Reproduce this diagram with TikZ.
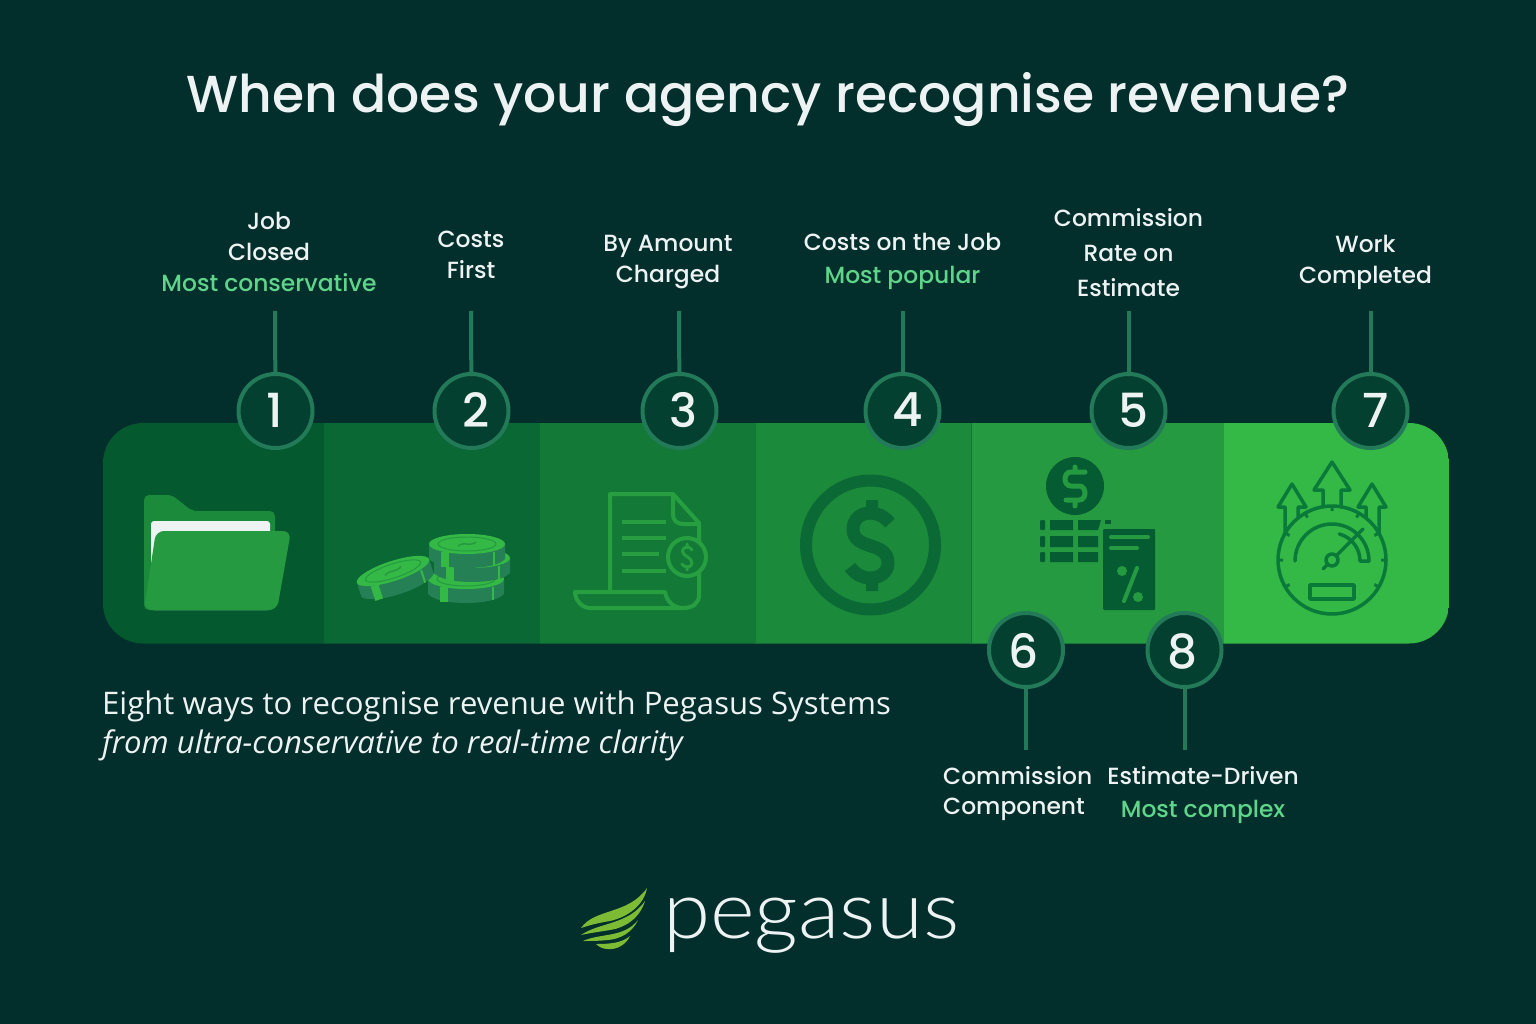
\documentclass[tikz,border=0pt]{standalone}
\usepackage{fontspec}
\setmainfont{Poppins}
\newfontfamily\titlefont{Poppins Medium}
\newfontfamily\logofont{Lato Light}
\newfontfamily\bodyfont{Open Sans}
\definecolor{bgdark}{HTML}{022E2C}
\definecolor{panela}{HTML}{04592F}
\definecolor{panelb}{HTML}{0A6834}
\definecolor{panelc}{HTML}{127A36}
\definecolor{paneld}{HTML}{1B8A3B}
\definecolor{panele}{HTML}{259A40}
\definecolor{panelf}{HTML}{34B846}
\definecolor{ringfill}{HTML}{03402F}
\definecolor{ringline}{HTML}{237A58}
\definecolor{softwhite}{HTML}{EDF2F2}
\definecolor{mint}{HTML}{5FD58A}
\definecolor{coinside}{HTML}{268055}
\definecolor{leaf}{HTML}{7DBB35}
\definecolor{iconfive}{HTML}{055C33}
\definecolor{iconseven}{HTML}{0A7A3A}
\tikzset{
  numring/.style={draw=ringline, fill=ringfill, circle, line width=4pt, minimum size=74pt, inner sep=0pt},
  numtext/.style={text=softwhite, font=\titlefont\fontsize{47}{47}\selectfont, inner sep=0pt},
  stem/.style={draw=ringline, line width=4pt},
  caption/.style={text=softwhite, align=center, inner sep=0pt, font=\titlefont\fontsize{23.4}{31}\selectfont},
  coin/.pic={
    \fill[coinside] (-38,0) -- (-38,15) .. controls (-28,27) and (28,27) .. (38,15) -- (38,0) -- cycle;
    \fill[panelf] (-26,8) rectangle (-18,23);
    \fill[panelf] (26,8) rectangle (28,21);
    \fill[panelf] (0,0) ellipse (38pt and 10pt);
    \draw[panele, line width=1pt] (0,0) ellipse (29pt and 7pt);
    \draw[panele, line width=1.5pt] (-9,2) .. controls (-3,-3) and (3,3) .. (9,-2);
  },
}
\begin{document}
\begin{tikzpicture}[x=1pt, y=-1pt]
\useasboundingbox[fill=bgdark] (0,0) rectangle (1536,1024);
\node[text=softwhite, font=\titlefont\fontsize{52}{52}\selectfont, inner sep=0pt] (heading) at (768,100) {When does your agency recognise revenue?};
% band
\begin{scope}
\clip[rounded corners=40pt] (103,423) rectangle (1449,643.5);
\fill[panela] (103,423) rectangle (324,644);
\fill[panelb] (324,423) rectangle (540,644);
\fill[panelc] (540,423) rectangle (755,644);
\fill[paneld] (755,423) rectangle (971,644);
\fill[panele] (971,423) rectangle (1224,644);
\fill[panelf] (1224,423) rectangle (1449,644);
\draw[panelc, line width=1pt] (755.5,423) -- (755.5,644);
\draw[panelc, line width=1pt] (971.5,423) -- (971.5,644);
\end{scope}
% folder
\fill[paneld, rounded corners=5pt] (144,610) -- (144,495) -- (172,495) -- (192,511) -- (275,511) -- (275,610) -- cycle;
\fill[softwhite, rounded corners=3pt] (151,610) -- (151,521) -- (270,521) -- (270,610) -- cycle;
\fill[panele, rounded corners=8pt] (156,531) -- (291,531) -- (277,610) -- (144,610) -- cycle;
% coins
\pic at (466,579) {coin};
\pic at (472,558) {coin};
\pic at (467,544) {coin};
\begin{scope}[shift={(393,571)}, rotate=18]
\pic[transform shape] at (0,0) {coin};
\end{scope}
% invoice
\begin{scope}[panele!85!panelf, line width=4pt, line join=round]
\draw (610,592) -- (610,494) -- (673,494) -- (699,523) -- (699,595) .. controls (699,604) and (692,608) .. (683,608) -- (590,608) .. controls (582,608) and (575,600) .. (575,592) -- (665,592) .. controls (667,602) and (674,608) .. (683,608);
\draw (673,494) -- (673,515) .. controls (673,520) and (677,524) .. (683,524) -- (699,524);
\draw (622,522) -- (666,522) (622,538) -- (666,538) (622,554) -- (659,554) (622,571) -- (666,571);
\fill[panelc] (687,557) circle (19pt);
\draw (687,557) circle (19pt);
\draw[line width=3pt, line cap=round] (692,550) .. controls (690,546) and (683,546) .. (682.5,551) .. controls (682,556) and (692,557) .. (692,563) .. controls (692,568) and (684,568) .. (682,564) (687,544) -- (687,547) (687,567) -- (687,570);
\end{scope}
% big dollar
\draw[panelb!95!panelc, line width=12pt] (870.5,545) circle (64.5pt);
\draw[panelb!95!panelc, line width=13pt] (890,523) .. controls (884,516) and (877,513) .. (870,513) .. controls (860,513) and (853,520) .. (853,529) .. controls (853,540) and (862,543) .. (871,546) .. controls (881,549) and (888,553) .. (888,563) .. controls (888,572) and (880,578) .. (870,578) .. controls (862,578) and (855,574) .. (850,567);
\fill[panelb!95!panelc] (866,500) rectangle (878,514) (866,576) rectangle (878,591);
% table and rate card
\fill[iconfive] (1075,486) circle (29pt);
\draw[panele, line width=5pt, line cap=round] (1085,472) -- (1071,472) .. controls (1063,472) and (1063,486) .. (1071,486) -- (1079,486) .. controls (1087,486) and (1087,500) .. (1079,500) -- (1066,500) (1075,467) -- (1075,472) (1075,500) -- (1075,506);
\fill[iconfive, rounded corners=1pt] (1040,520) rectangle (1045,530) (1040,536) rectangle (1045,547) (1040,552) rectangle (1045,562);
\fill[iconfive] (1050,520) rectangle (1073,530) (1050,536) rectangle (1073,547) (1050,552) rectangle (1073,562);
\fill[iconfive] (1078,520) -- (1101,520) -- (1098,530) -- (1078,530) -- cycle (1078,536) rectangle (1098,547) (1078,552) rectangle (1098,562);
\fill[iconfive] (1105,520) rectangle (1111,524);
\fill[iconfive, rounded corners=1pt] (1103,529) rectangle (1155,610);
\draw[panele, line width=4pt, line cap=round] (1111,537) -- (1148,537) (1111,548) -- (1137,548);
\draw[panele, line width=4pt, line cap=round] (1137,568) -- (1124,601);
\fill[panele] (1122,571) circle (5pt) (1138,597) circle (5pt);
% gauge
\begin{scope}[draw=iconseven, line width=3.5pt, line join=round, line cap=round]
\draw (1332,560) circle (54pt);
\draw (1323,507) -- (1323,490) -- (1314,490) -- (1332,462) -- (1350,490) -- (1341,490) -- (1341,507);
\draw (1285,533) -- (1285,507) -- (1278,507) -- (1292,484) -- (1306,507) -- (1298,507) -- (1298,517);
\draw (1379,533) -- (1379,507) -- (1386,507) -- (1372,484) -- (1358,507) -- (1366,507) -- (1366,517);
\draw (1295,561) arc (180:0:37pt) -- (1360,561) arc (0:75:28pt);
\draw (1323,569) -- (1363,529);
\fill[panelf] (1332,560) circle (6pt);
\draw (1332,560) circle (6pt);
\draw (1310,585) rectangle (1354,599);
\end{scope}
\begin{scope}[shift={(1332,560)}, draw=iconseven, line width=3pt]
\draw (0:54pt) -- (0:49pt) (30:54pt) -- (30:49pt) (60:54pt) -- (60:49pt);
\draw (90:54pt) -- (90:49pt) (120:54pt) -- (120:49pt) (150:54pt) -- (150:49pt);
\draw (180:54pt) -- (180:49pt) (210:54pt) -- (210:49pt) (330:54pt) -- (330:49pt);
\end{scope}
% numbered rings
\node[numring] (ringa) at (275.5,411) {};
\node[numring] (ringb) at (471.5,411) {};
\node[numring] (ringc) at (679.5,411) {};
\node[numring] (ringd) at (902.5,411) {};
\node[numring] (ringe) at (1128.5,411) {};
\node[numring] (ringg) at (1370.5,411) {};
\node[numring] (ringf) at (1026,650) {};
\node[numring] (ringh) at (1184.5,650) {};
\node[numtext] (numa) at (275,410) {1};
\node[numtext] (numb) at (476,410) {2};
\node[numtext] (numc) at (683,410) {3};
\node[numtext] (numd) at (908,410) {4};
\node[numtext] (nume) at (1134,410) {5};
\node[numtext] (numg) at (1376,410) {7};
\node[numtext] (numf) at (1024,651) {6};
\node[numtext] (numh) at (1182.5,651) {8};
% stems
\coordinate (enda) at (275,311);
\coordinate (endb) at (471,311);
\coordinate (endc) at (679,311);
\coordinate (endd) at (902.5,311);
\coordinate (ende) at (1128.5,311);
\coordinate (endg) at (1370.5,311);
\coordinate (endf) at (1026,750);
\coordinate (endh) at (1184.5,750);
\draw[stem] (enda) -- (ringa);
\draw[stem] (endb) -- (ringb);
\draw[stem] (endc) -- (ringc);
\draw[stem] (endd) -- (ringd);
\draw[stem] (ende) -- (ringe);
\draw[stem] (endg) -- (ringg);
\draw[stem] (endf) -- (ringf);
\draw[stem] (endh) -- (ringh);
% captions
\node[caption] (capa) at (269,252) {Job\\Closed\\\textcolor{mint}{Most conservative}};
\node[caption] (capb) at (471,255) {Costs\\First};
\node[caption] (capc) at (668,262) {By Amount\\Charged};
\node[caption, font=\titlefont\fontsize{23.4}{33}\selectfont] (capd) at (902.5,261) {Costs on the Job\\\textcolor{mint}{Most popular}};
\node[caption, font=\titlefont\fontsize{23.4}{35}\selectfont] (cape) at (1128.5,253) {Commission\\Rate on\\Estimate};
\node[caption] (capg) at (1365.5,262) {Work\\Completed};
\node[caption, align=left, anchor=west, font=\titlefont\fontsize{23.4}{30}\selectfont] (capf) at (943,793.5) {Commission\\Component};
\node[caption, font=\titlefont\fontsize{23.4}{33}\selectfont] (caph) at (1203,795) {Estimate-Driven\\\textcolor{mint}{Most complex}};
% subtitle
\node[text=softwhite, align=left, anchor=west, inner sep=0pt, font=\bodyfont\fontsize{31.1}{39}\selectfont] (subline) at (102,726) {Eight ways to recognise revenue with Pegasus Systems\\\textit{from ultra-conservative to real-time clarity}};
% logo
\fill[leaf] (581,928) .. controls (595,908) and (628,915) .. (647,888) .. controls (644,905) and (628,917) .. (610,921) .. controls (598,923) and (590,925) .. (581,928) -- cycle;
\fill[leaf] (581,935) .. controls (600,922) and (628,925) .. (645,901) .. controls (640,918) and (625,928) .. (610,930) .. controls (598,932) and (590,933) .. (581,935) -- cycle;
\fill[leaf] (583,941) .. controls (600,933) and (624,938) .. (638,920) .. controls (632,933) and (620,939) .. (608,940) .. controls (598,941) and (590,941) .. (583,941) -- cycle;
\fill[leaf] (596,944) .. controls (610,944) and (622,943) .. (630,936) .. controls (626,945) and (616,950) .. (608,949) .. controls (603,949) and (599,947) .. (596,944) -- cycle;
\node[text=softwhite, anchor=base west, inner sep=0pt, font=\logofont\fontsize{80}{80}\selectfont] (logoword) at (663,938) {\scalebox{1.068}[1]{pegasus}};
\end{tikzpicture}
\end{document}
